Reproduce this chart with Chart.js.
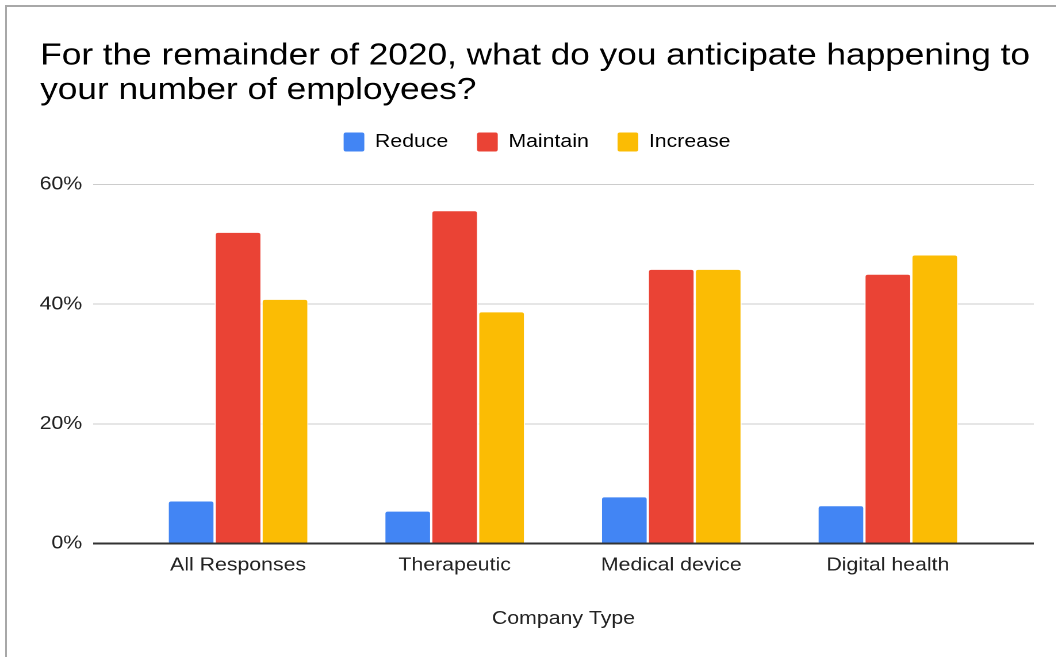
<!DOCTYPE html>
<html>
<head>
<meta charset="utf-8">
<title>Employee outlook by company type</title>
<script src="https://cdn.jsdelivr.net/npm/chart.js@4.4.1/dist/chart.umd.min.js"></script>
<style>
  html, body { margin: 0; padding: 0; background: #fff; overflow: hidden; }
  .frame {
    position: absolute; left: 5px; top: 5px; width: 1100px; height: 700px;
    border-left: 2px solid #a8a8a8; border-top: 2px solid #a8a8a8;
  }
  /* chart is laid out a bit narrower and stretched to the full width */
  .chart-box {
    position: absolute; left: 0; top: 0; width: 918px; height: 657px;
    transform: scaleX(1.15); transform-origin: 0 0;
  }
</style>
</head>
<body>
<div class="frame"></div>
<div class="chart-box"><canvas id="employeesChart"></canvas></div>
<script>
const companyTypes = ["All Responses", "Therapeutic", "Medical device", "Digital health"];
const reduceValues = [7.2, 5.5, 7.9, 6.4];
const maintainValues = [52.1, 55.7, 45.9, 45.1];
const increaseValues = [40.9, 38.8, 45.9, 48.3];
const yTicks = [0, 20, 40, 60];

const FONT = "Arial, 'Liberation Sans', Helvetica, sans-serif";
const TEXT = "#222222";

const toPoints = (values) => values.map((v, i) => ({ x: i, y: v }));

const barStyle = {
  borderColor: "#ffffff",
  borderWidth: 1,
  borderRadius: { topLeft: 3, topRight: 3, bottomLeft: 0, bottomRight: 0 },
  borderSkipped: "bottom",
  categoryPercentage: 0.65,
  barPercentage: 1
};

new Chart(document.getElementById("employeesChart"), {
  type: "bar",
  data: {
    datasets: [
      { label: "Reduce", data: toPoints(reduceValues), backgroundColor: "#4285f4", ...barStyle },
      { label: "Maintain", data: toPoints(maintainValues), backgroundColor: "#ea4335", ...barStyle },
      { label: "Increase", data: toPoints(increaseValues), backgroundColor: "#fbbc04", ...barStyle }
    ]
  },
  options: {
    responsive: true,
    maintainAspectRatio: false,
    animation: false,
    devicePixelRatio: 2,
    layout: { padding: { left: 35, right: 19, top: 0, bottom: 27 } },
    plugins: {
      tooltip: { enabled: false },
      title: {
        display: true,
        align: "start",
        text: ["For the remainder of 2020, what do you anticipate happening to", "your number of employees?"],
        color: "#000",
        font: { family: FONT, size: 30.6, weight: "normal", lineHeight: 1.12 },
        padding: { top: 39, bottom: 0 }
      },
      legend: {
        position: "top",
        labels: {
          color: TEXT,
          font: { family: FONT, size: 18.5 },
          boxWidth: 18,
          boxHeight: 19,
          padding: 25,
          useBorderRadius: true,
          borderRadius: 2,
          generateLabels: (chart) => chart.data.datasets.map((ds, i) => ({
            text: ds.label,
            fillStyle: ds.backgroundColor,
            strokeStyle: ds.backgroundColor,
            lineWidth: 0,
            borderRadius: 2,
            datasetIndex: i
          }))
        }
      },
      // empty subtitle used as a spacer between legend and plot
      subtitle: {
        display: true,
        position: "top",
        weight: 500,
        text: "",
        font: { size: 10, lineHeight: 1 },
        padding: { top: 0, bottom: 13 }
      }
    },
    scales: {
      x: {
        type: "linear",
        offset: false,
        min: -0.669,
        max: 3.674,
        grid: { display: false, drawTicks: false, offset: false },
        border: { display: false },
        afterBuildTicks: (scale) => { scale.ticks = companyTypes.map((_, i) => ({ value: i })); },
        ticks: {
          autoSkip: false,
          maxRotation: 0,
          color: TEXT,
          padding: 10.5,
          font: { family: FONT, size: 18.5 },
          callback: (v) => companyTypes[v] ?? ""
        },
        title: {
          display: true,
          text: "Company Type",
          color: TEXT,
          font: { family: FONT, size: 18.5 },
          padding: { top: 21, bottom: 0 }
        }
      },
      y: {
        min: 0,
        max: 60,
        afterFit: (scale) => { scale.width = 46; },
        afterBuildTicks: (scale) => { scale.ticks = yTicks.map((v) => ({ value: v })); },
        border: { display: false },
        grid: {
          drawTicks: false,
          color: (ctx) => ctx.tick && ctx.tick.value === 0 ? "#333333" : "#cccccc",
          lineWidth: (ctx) => ctx.tick && ctx.tick.value === 0 ? 2 : 1
        },
        ticks: {
          color: TEXT,
          padding: 9.5,
          font: { family: FONT, size: 18.5 },
          callback: (v) => v + "%"
        }
      }
    }
  }
});
</script>
</body>
</html>
